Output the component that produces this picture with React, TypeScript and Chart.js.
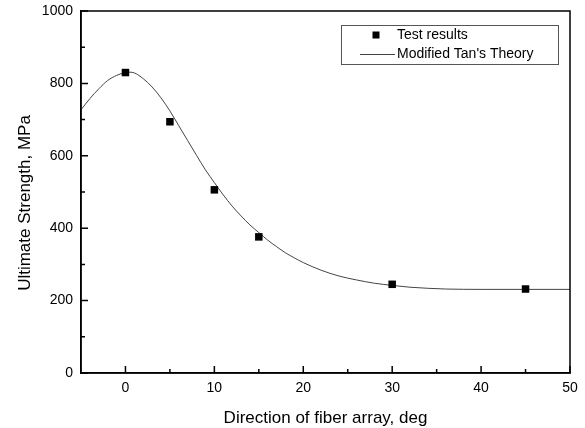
import React, { useEffect, useRef } from "react";
import { Chart, registerables } from "chart.js";

Chart.register(...registerables);

// Test results
const testAngles = [0, 5, 10, 15, 30, 45];
const testStrength = [830, 694, 506, 376, 245, 232];

// Modified Tan's Theory curve
const theoryAngles = [-5, -4, -3, -2, -1, 0, 0.5, 1, 2, 3, 4, 5, 6, 7, 8, 9, 10, 11, 12, 13, 14, 15, 16, 17, 18, 19, 20, 22, 24, 26, 28, 30, 32, 34, 36, 40, 45, 50];
const theoryStrength = [727, 758, 785, 808, 822, 830, 831, 829, 813, 790, 760, 724, 683, 642, 601, 561, 526, 492, 461, 434, 409, 388, 367, 349, 332, 318, 305, 284, 268, 257, 248, 242, 237, 234, 232, 231, 231, 231];

// Axes
const xTicks = [0, 10, 20, 30, 40, 50];
const xMinorTicks = [5, 15, 25, 35, 45];
const yTicks = [0, 200, 400, 600, 800, 1000];
const yMinorTicks = [100, 300, 500, 700, 900];
const xTitle = "Direction of fiber array, deg";
const yTitle = "Ultimate Strength, MPa";
const seriesLabels = ["Test results", "Modified Tan's Theory"];

const FONT = "'Liberation Sans', Arial, sans-serif";

const decorPlugin = {
  id: "decor",
  afterDraw(chart: any) {
    const ctx = chart.ctx;
    const a = chart.chartArea;
    const xs = chart.scales.x;
    const ys = chart.scales.y;
    ctx.save();
    // frame
    ctx.strokeStyle = "#000";
    ctx.lineWidth = 1.5;
    ctx.strokeRect(a.left, a.top, a.right - a.left, a.bottom - a.top);
    // inward ticks
    ctx.lineWidth = 1.5;
    ctx.beginPath();
    xTicks.forEach((v) => {
      const px = xs.getPixelForValue(v);
      ctx.moveTo(px, a.bottom);
      ctx.lineTo(px, a.bottom - 7);
    });
    xMinorTicks.forEach((v) => {
      const px = xs.getPixelForValue(v);
      ctx.moveTo(px, a.bottom);
      ctx.lineTo(px, a.bottom - 4);
    });
    yTicks.forEach((v) => {
      const py = ys.getPixelForValue(v);
      ctx.moveTo(a.left, py);
      ctx.lineTo(a.left + 7, py);
    });
    yMinorTicks.forEach((v) => {
      const py = ys.getPixelForValue(v);
      ctx.moveTo(a.left, py);
      ctx.lineTo(a.left + 4, py);
    });
    ctx.stroke();

    // axis titles
    ctx.fillStyle = "#000";
    ctx.font = `17px ${FONT}`;
    ctx.textAlign = "center";
    ctx.textBaseline = "alphabetic";
    ctx.fillText(xTitle, (a.left + a.right) / 2, 423);
    ctx.save();
    ctx.translate(29.5, (a.top + a.bottom) / 2 + 11);
    ctx.rotate(-Math.PI / 2);
    ctx.fillText(yTitle, 0, 0);
    ctx.restore();

    // legend
    const bw = 217;
    const bh = 39;
    const bx = a.right - 12 - bw;
    const by = a.top + 14;
    ctx.fillStyle = "#fff";
    ctx.fillRect(bx, by, bw, bh);
    ctx.strokeStyle = "#555";
    ctx.lineWidth = 1;
    ctx.strokeRect(bx + 0.5, by + 0.5, bw, bh);
    ctx.font = `14px ${FONT}`;
    ctx.textAlign = "left";
    ctx.textBaseline = "middle";
    ctx.fillStyle = "#000";
    const ds = chart.data.datasets;
    // row 1: marker
    ctx.fillRect(bx + 35 - 3.5, by + 10 - 3.5, 7, 7);
    ctx.fillText(ds[0].label, bx + 56, by + 10);
    // row 2: line
    ctx.strokeStyle = "#444";
    ctx.lineWidth = 1;
    ctx.beginPath();
    ctx.moveTo(bx + 19, by + 29.5);
    ctx.lineTo(bx + 54, by + 29.5);
    ctx.stroke();
    ctx.fillText(ds[1].label, bx + 56, by + 29);
    ctx.restore();
  },
};

export default function App() {
  const ref = useRef<HTMLCanvasElement | null>(null);
  useEffect(() => {
    if (!ref.current) return;
    const chart = new Chart(ref.current, {
      type: "scatter",
      data: {
        datasets: [
          {
            label: seriesLabels[0],
            data: testAngles.map((x, i) => ({ x, y: testStrength[i] })),
            pointStyle: "rect",
            pointRadius: 5.3,
            pointBackgroundColor: "#000",
            pointBorderColor: "#000",
            pointBorderWidth: 0,
            showLine: false,
            order: 0,
          },
          {
            label: seriesLabels[1],
            data: theoryAngles.map((x, i) => ({ x, y: theoryStrength[i] })),
            showLine: true,
            pointRadius: 0,
            borderColor: "#444",
            borderWidth: 1,
            cubicInterpolationMode: "monotone",
            order: 1,
          },
        ],
      },
      options: {
        responsive: false,
        animation: false,
        devicePixelRatio: 1,
        layout: { padding: { top: 11, right: 15, bottom: 0, left: 0 } },
        plugins: { legend: { display: false }, tooltip: { enabled: false } },
        scales: {
          x: {
            type: "linear",
            min: -5,
            max: 50,
            grid: { display: false, drawTicks: false },
            border: { display: true, color: "#000", width: 1.5 },
            afterBuildTicks: (s: any) => {
              s.ticks = xTicks.map((v) => ({ value: v }));
            },
            afterFit: (s: any) => {
              s.height = 55;
              s.paddingLeft = 0;
              s.paddingRight = 0;
            },
            ticks: {
              padding: 7,
              color: "#000",
              font: { family: FONT, size: 14 },
              maxRotation: 0,
              callback: (v: any) => String(v),
            },
          },
          y: {
            type: "linear",
            min: 0,
            max: 1000,
            grid: { display: false, drawTicks: false },
            border: { display: true, color: "#000", width: 1.5 },
            afterBuildTicks: (s: any) => {
              s.ticks = yTicks.map((v) => ({ value: v }));
            },
            afterFit: (s: any) => {
              s.width = 81;
              s.paddingTop = 0;
              s.paddingBottom = 0;
            },
            ticks: {
              padding: 8,
              color: "#000",
              font: { family: FONT, size: 14 },
              callback: (v: any) => String(v),
            },
          },
        },
      },
      plugins: [decorPlugin],
    });
    return () => chart.destroy();
  }, []);
  return (
    <div style={{ position: "absolute", left: 0, top: 0, width: 585, height: 428, background: "#fff" }}>
      <canvas ref={ref} width={585} height={428} style={{ display: "block" }} />
    </div>
  );
}
